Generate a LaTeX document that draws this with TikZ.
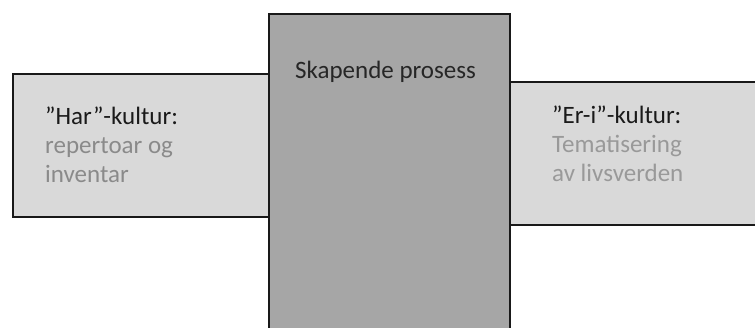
\documentclass[tikz,border=0pt]{standalone}
\usepackage{fontspec}
\setmainfont{Carlito}
\definecolor{boxlight}{HTML}{D9D9D9}
\definecolor{boxdark}{HTML}{A6A6A6}
\definecolor{titlecol}{HTML}{1A1A1A}
\definecolor{subleft}{HTML}{8A8A8A}
\definecolor{subright}{HTML}{999999}
\tikzset{
  panel/.style={draw=black!90, line width=2pt, inner sep=0pt, anchor=north west},
  label/.style={anchor=base west, align=left, inner sep=0pt,
    font=\fontsize{25}{29}\selectfont, text=titlecol},
}
\begin{document}
\begin{tikzpicture}[x=1pt,y=-1pt]
\useasboundingbox (0,0) rectangle (755,327);
\node[panel, fill=boxlight, minimum width=257pt, minimum height=143pt] (har) at (12,73) {};
\node[panel, fill=boxlight, minimum width=260pt, minimum height=143pt] (eri) at (509,81) {};
\node[panel, fill=boxdark, minimum width=241pt, minimum height=330pt] (skap) at (268,13) {};
\node[label] (hartxt) at (45,182) {”Har”-kultur:\\\textcolor{subleft}{repertoar og}\\\textcolor{subleft}{inventar}};
\node[label] (eritxt) at (552,181) {”Er-i”-kultur:\\\textcolor{subright}{Tematisering}\\\textcolor{subright}{av livsverden}};
\node[label, text=black!85] (skaptxt) at (295,78) {Skapende prosess};
\end{tikzpicture}
\end{document}
